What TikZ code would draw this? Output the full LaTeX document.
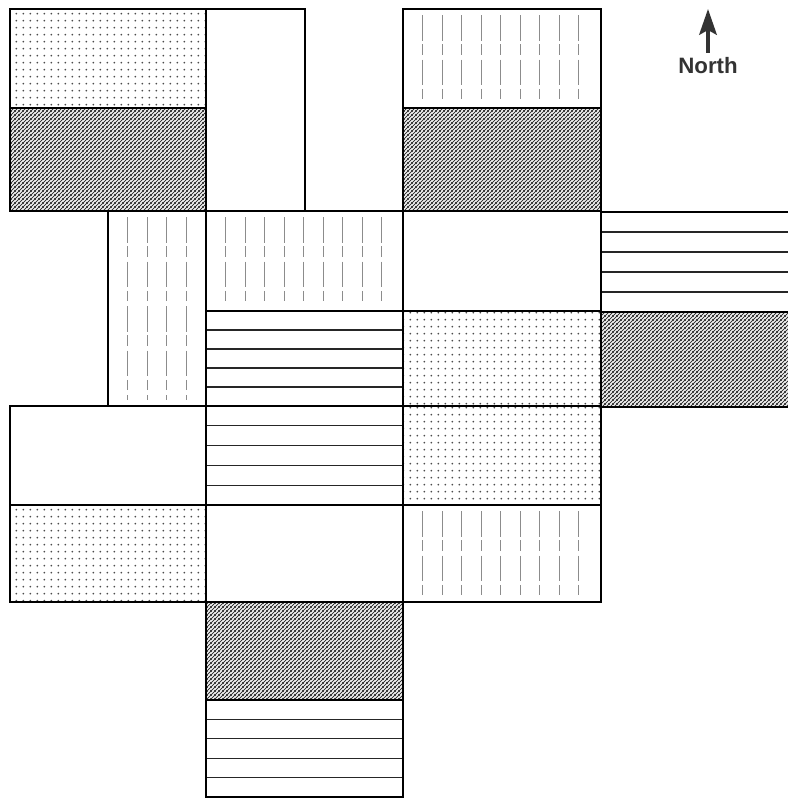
\documentclass[tikz,border=0pt]{standalone}
\usepackage{fontspec}
\newfontfamily\northfont{Liberation Sans}
\usetikzlibrary{arrows.meta,patterns}

\pgfdeclarepatternformonly{fielddots}{\pgfpointorigin}{\pgfpoint{5.8pt}{5.8pt}}{\pgfpoint{5.8pt}{5.8pt}}{%
  \pgfpathcircle{\pgfpoint{2.9pt}{2.9pt}}{0.85pt}\pgfusepath{fill}}
\pgfdeclarepatternformonly{fieldhatch}{\pgfpointorigin}{\pgfpoint{3pt}{3pt}}{\pgfpoint{3pt}{3pt}}{%
  \pgfsetlinewidth{0.75pt}%
  \pgfpathmoveto{\pgfpoint{-1pt}{-1pt}}\pgfpathlineto{\pgfpoint{4pt}{4pt}}%
  \pgfpathmoveto{\pgfpoint{-1pt}{2pt}}\pgfpathlineto{\pgfpoint{1pt}{4pt}}%
  \pgfpathmoveto{\pgfpoint{2pt}{-1pt}}\pgfpathlineto{\pgfpoint{4pt}{1pt}}%
  \pgfusepath{stroke}}

\begin{document}
\begin{tikzpicture}[x=0.03cm, y=-0.03cm,
    field/.style={draw, line width=2.4pt},
    dotfield/.style={pattern=fielddots, pattern color=black!70},
    hatchfield/.style={pattern=fieldhatch, pattern color=black!80},
    vrule/.style={draw=black!45, line width=0.6pt, dash pattern=on 22pt off 3pt on 9pt off 4pt},
    hrule/.style={draw=black!85, line width=1pt},
    arrow/.style={-{Stealth[length=22pt, width=15pt, inset=4pt]}, line width=2.8pt, draw=black!80}
  ]
  \useasboundingbox[fill=white] (0,0) rectangle (788,801);
  % dotted fields
  \foreach \xa/\ya/\xb/\yb in {10/9/206/108, 403/311/601/406, 403/406/601/505, 10/505/206/602}
    \fill[dotfield] (\xa,\ya) rectangle (\xb,\yb);
  % hatched fields
  \foreach \xa/\ya/\xb/\yb in {10/108/206/211, 403/108/601/211, 601/312/788/407, 206/602/403/700}
    \fill[hatchfield] (\xa,\ya) rectangle (\xb,\yb);
  % vertical stripes
  \foreach \xa/\ya/\xb/\yb/\cnt in {403/9/601/108/9, 108/211/206/406/4, 206/211/403/311/9, 403/505/601/602/9}
    \foreach \k in {1,...,\cnt}
      \draw[vrule] (\xa+19.5*\k,\ya+6) -- (\xa+19.5*\k,\yb-6);
  % horizontal stripes
  \foreach \xa/\ya/\xb/\yb in {206/311/403/406, 206/406/403/505, 601/212/788/312, 206/700/403/797}
    \foreach \k in {1,...,4}
      \draw[hrule] (\xa,{\ya+(\yb-\ya)*\k/5}) -- (\xb,{\ya+(\yb-\ya)*\k/5});
  % field borders
  \foreach \xa/\ya/\xb/\yb in {10/9/206/108, 10/108/206/211, 206/9/305/211, 403/9/601/108, 403/108/601/211,
      108/211/206/406, 206/211/403/311, 403/211/601/311, 206/311/403/406, 403/311/601/406,
      10/406/206/505, 206/406/403/505, 403/406/601/505, 10/505/206/602, 206/505/403/602,
      403/505/601/602, 206/602/403/700, 206/700/403/797}
    \draw[field] (\xa,\ya) rectangle (\xb,\yb);
  \draw[field] (788,212) -| (601,312) -- (788,312);
  \draw[field] (601,312) |- (788,407);
  % north sign
  \node[font=\northfont\bfseries\fontsize{19}{22}\selectfont, text=black!80, inner sep=1pt] (north) at (708,66) {North};
  \coordinate (tip) at (708,9);
  \draw[arrow, shorten <=3pt] (north.north) -- (tip);
\end{tikzpicture}
\end{document}
